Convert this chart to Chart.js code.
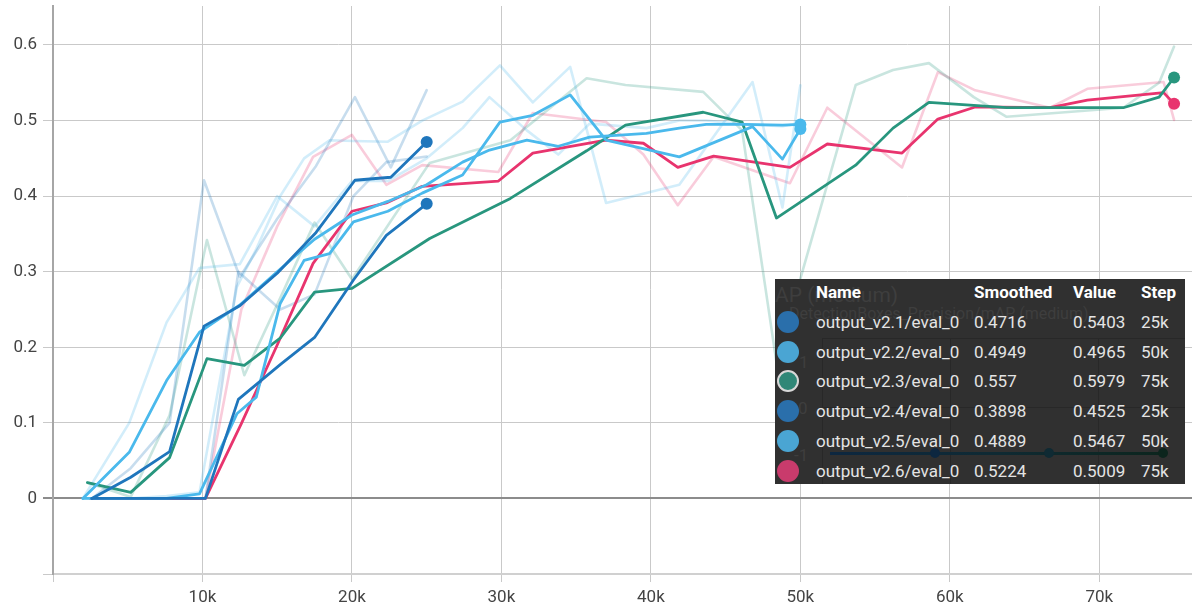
<!DOCTYPE html>
<html>
<head>
<meta charset="utf-8">
<script src="https://cdn.jsdelivr.net/npm/chart.js@4.4.1/dist/chart.umd.min.js"></script>
<style>
  html, body { margin: 0; padding: 0; background: #ffffff; }
  #wrap { position: relative; width: 1192px; height: 612px; overflow: hidden; }
  #plot { display: block; }
  #tip {
    position: absolute; left: 775px; top: 279px; width: 410px; height: 205px;
    background: #303030; overflow: hidden;
    font-family: Roboto, "Noto Sans", sans-serif; font-size: 17px;
  }
  #tip .ghost { position: absolute; white-space: nowrap; color: #3e3e3e; }
  #tip .gline { position: absolute; background: #282828; }
  #tip .row { position: absolute; left: 0; width: 410px; height: 22px; line-height: 22px; color: #e4e4e4; }
  #tip .row span { position: absolute; top: 0; white-space: nowrap; }
  #tip .row.head { color: #ffffff; font-weight: bold; }
  #tip .dot { position: absolute; width: 22px; height: 22px; border-radius: 50%; box-sizing: border-box; top: 0; left: 2px; }
</style>
</head>
<body>
<div id="wrap">
  <canvas id="plot" width="1198" height="612"></canvas>
  <div id="tip"></div>
</div>
<script>
// mAP (medium) evaluation curves: steps, smoothed and raw values per run
const RUN_NAMES = ['output_v2.1/eval_0', 'output_v2.2/eval_0', 'output_v2.3/eval_0',
                   'output_v2.4/eval_0', 'output_v2.5/eval_0', 'output_v2.6/eval_0'];

const STEPS_V21  = [2600, 5200, 7800, 10100, 12500, 15000, 17600, 20200, 22600, 25000];
const SMOOTH_V21 = [0, 0.028, 0.062, 0.228, 0.255, 0.298, 0.352, 0.421, 0.425, 0.4716];
const RAW_V21    = [0, 0.04, 0.10, 0.421, 0.293, 0.37, 0.44, 0.531, 0.438, 0.5403];

const STEPS_V22  = [2000, 5100, 7600, 9800, 12500, 15000, 17500, 20000, 22400, 25000, 27400,
                    29200, 31700, 33800, 35900, 39700, 41900, 43700, 46200, 48800, 50000];
const SMOOTH_V22 = [0, 0.061, 0.156, 0.220, 0.256, 0.300, 0.343, 0.375, 0.393, 0.415, 0.445,
                    0.461, 0.474, 0.466, 0.478, 0.483, 0.490, 0.495, 0.495, 0.494, 0.4949];
const RAW_V22    = [0, 0.10, 0.233, 0.305, 0.31, 0.40, 0.36, 0.42, 0.42, 0.45, 0.49,
                    0.531, 0.487, 0.455, 0.496, 0.49, 0.50, 0.50, 0.495, 0.4925, 0.4965];

const STEPS_V23  = [2300, 5200, 7800, 10300, 12800, 15200, 17500, 20000, 25200, 30600, 35700, 38300,
                    43500, 46100, 48400, 53700, 56200, 58600, 61600, 63800, 71600, 74000, 75000];
const SMOOTH_V23 = [0.021, 0.008, 0.054, 0.185, 0.176, 0.212, 0.273, 0.278, 0.344, 0.397, 0.460, 0.494,
                    0.511, 0.498, 0.371, 0.441, 0.490, 0.524, 0.520, 0.517, 0.517, 0.531, 0.557];
const RAW_V23    = [0.021, 0.002, 0.11, 0.342, 0.163, 0.265, 0.365, 0.29, 0.444, 0.474, 0.556, 0.547,
                    0.538, 0.487, 0.18, 0.547, 0.567, 0.576, 0.531, 0.505, 0.517, 0.55, 0.5979];

const STEPS_V24  = [2600, 5200, 7800, 10200, 12400, 15200, 17500, 20100, 22300, 25000];
const SMOOTH_V24 = [0, 0, 0, 0, 0.131, 0.177, 0.213, 0.289, 0.348, 0.3898];
const RAW_V24    = [0, 0, 0, 0, 0.30, 0.25, 0.27, 0.40, 0.445, 0.4525];

const STEPS_V25  = [2000, 5100, 7600, 9800, 12300, 13600, 15200, 16800, 18500, 20100, 22400,
                    24700, 27400, 29900, 32100, 34600, 37000, 41900, 46800, 48800, 50000];
const SMOOTH_V25 = [0, 0, 0, 0.006, 0.112, 0.134, 0.258, 0.315, 0.324, 0.366, 0.380,
                    0.404, 0.428, 0.498, 0.507, 0.534, 0.474, 0.452, 0.492, 0.449, 0.4889];
const RAW_V25    = [0, 0, 0.003, 0.008, 0.28, 0.33, 0.40, 0.45, 0.474, 0.473, 0.472,
                    0.50, 0.525, 0.573, 0.524, 0.571, 0.391, 0.415, 0.551, 0.385, 0.5467];

const STEPS_V26  = [2500, 5000, 7600, 10200, 12600, 15000, 17400, 20000, 22300, 24700, 29800, 32100, 37000,
                    39500, 41800, 44200, 49300, 51800, 56800, 59200, 61700, 66700, 69200, 74300, 75000];
const SMOOTH_V26 = [0, 0, 0, 0, 0.099, 0.203, 0.311, 0.380, 0.391, 0.413, 0.420, 0.457, 0.474,
                    0.470, 0.438, 0.453, 0.438, 0.469, 0.457, 0.502, 0.518, 0.517, 0.527, 0.537, 0.5224];
const RAW_V26    = [0, 0, 0, 0, 0.25, 0.36, 0.452, 0.481, 0.415, 0.441, 0.432, 0.51, 0.498,
                    0.455, 0.388, 0.452, 0.417, 0.517, 0.438, 0.564, 0.54, 0.517, 0.542, 0.551, 0.5009];

const X_TICKS = [10000, 20000, 30000, 40000, 50000, 60000, 70000];
const Y_TICKS = [0, 0.1, 0.2, 0.3, 0.4, 0.5, 0.6];

// run styling: line colour, faint raw colour, tooltip swatch
const STYLE = [
  { line: 'rgb(31,118,188)', raw: 'rgba(31,118,188,0.25)',  swatch: '#2a6fab', ring: null },
  { line: 'rgb(74,185,236)', raw: 'rgba(74,185,236,0.25)',  swatch: '#4aa5d3', ring: null },
  { line: 'rgb(40,150,126)', raw: 'rgba(40,150,126,0.25)',  swatch: '#2f8777', ring: '#d8d8d8' },
  { line: 'rgb(31,118,188)', raw: 'rgba(31,118,188,0.25)',  swatch: '#2a6fab', ring: null },
  { line: 'rgb(74,185,236)', raw: 'rgba(74,185,236,0.25)',  swatch: '#4aa5d3', ring: null },
  { line: 'rgb(232,52,110)', raw: 'rgba(232,52,110,0.25)',  swatch: '#c93b6c', ring: null }
];

const RUNS = [
  { steps: STEPS_V21, smooth: SMOOTH_V21, raw: RAW_V21 },
  { steps: STEPS_V22, smooth: SMOOTH_V22, raw: RAW_V22 },
  { steps: STEPS_V23, smooth: SMOOTH_V23, raw: RAW_V23 },
  { steps: STEPS_V24, smooth: SMOOTH_V24, raw: RAW_V24 },
  { steps: STEPS_V25, smooth: SMOOTH_V25, raw: RAW_V25 },
  { steps: STEPS_V26, smooth: SMOOTH_V26, raw: RAW_V26 }
];

const pts = (xs, ys) => xs.map((x, i) => ({ x: x, y: ys[i] }));

// smoothed lines on top (listed first, drawn last), raw lines underneath
const drawOrder = [0, 3, 1, 4, 2, 5];
const smoothSets = drawOrder.map(i => {
  const r = RUNS[i];
  const last = r.steps.length - 1;
  return {
    label: RUN_NAMES[i],
    data: pts(r.steps, r.smooth),
    borderColor: STYLE[i].line,
    backgroundColor: STYLE[i].line,
    borderWidth: 2.8,
    pointRadius: c => (c.dataIndex === last ? 6 : 0),
    pointBorderWidth: 0,
    pointBackgroundColor: STYLE[i].line,
    pointHoverRadius: 0
  };
});
const rawSets = drawOrder.map(i => {
  const r = RUNS[i];
  return {
    label: RUN_NAMES[i] + ' (raw)',
    data: pts(r.steps, r.raw),
    borderColor: STYLE[i].raw,
    borderWidth: 2.6,
    pointRadius: 0,
    pointHoverRadius: 0
  };
});

const isZero = v => Math.abs(v) < 1e-9;

new Chart(document.getElementById('plot'), {
  type: 'line',
  data: { datasets: smoothSets.concat(rawSets) },
  options: {
    responsive: false,
    animation: false,
    devicePixelRatio: 1,
    events: [],
    layout: { padding: { top: 6, right: 0, left: 0, bottom: 0 } },
    plugins: { legend: { display: false }, tooltip: { enabled: false } },
    elements: { line: { tension: 0, borderCapStyle: 'round', borderJoinStyle: 'round', fill: false } },
    scales: {
      x: {
        type: 'linear', min: 0, max: 76200,
        afterFit: s => { s.height = 38; s.paddingLeft = 0; s.paddingRight = 0; },
        afterBuildTicks: s => { s.ticks = [0].concat(X_TICKS).map(v => ({ value: v })); },
        border: { display: true, color: '#d0d0d0', width: 2 },
        grid: { color: '#c9c9c9', lineWidth: 1, tickLength: 8 },
        ticks: {
          autoSkip: false, maxRotation: 0, padding: 6, color: '#444444',
          font: { family: 'Roboto', size: 17 },
          callback: v => (v === 0 ? '' : (v / 1000) + 'k')
        }
      },
      y: {
        type: 'linear', min: -0.1, max: 0.6516,
        afterFit: s => { s.width = 53; s.paddingTop = 0; s.paddingBottom = 0; },
        afterBuildTicks: s => { s.ticks = [-0.1].concat(Y_TICKS).map(v => ({ value: v })); },
        border: { display: true, color: '#a6a6a6', width: 2 },
        grid: {
          color: c => (c.tick && isZero(c.tick.value) ? '#8c8c8c' : '#c9c9c9'),
          lineWidth: c => (c.tick && isZero(c.tick.value) ? 2 : 1),
          tickLength: 10
        },
        ticks: {
          padding: 6, color: '#444444',
          font: { family: 'Roboto', size: 17 },
          callback: v => (v < -0.05 ? '' : String(Math.round(v * 10) / 10))
        }
      }
    }
  }
});

// hover card listing the last point of every run
const tip = document.getElementById('tip');
function add(cls, css, text) {
  const el = document.createElement('div');
  el.className = cls;
  Object.assign(el.style, css);
  if (text !== undefined) el.textContent = text;
  tip.appendChild(el);
  return el;
}
// faint panel artwork behind the card text
add('gline', { left: '47px', top: '59px', width: '363px', height: '1px' });
add('gline', { left: '47px', top: '128px', width: '363px', height: '1px' });
add('gline', { left: '47px', top: '59px', width: '1px', height: '146px' });
add('gline', { left: '175px', top: '59px', width: '1px', height: '146px' });
add('gline', { left: '323px', top: '59px', width: '1px', height: '146px' });
add('ghost', { left: '0px', top: '4px', fontSize: '21px' }, 'AP (medium)');
add('ghost', { left: '14px', top: '25px', fontSize: '16px' }, 'DetectionBoxes_Precision/mAP (medium)');
add('ghost', { left: '24px', top: '73px', fontSize: '17px' }, '1');
add('ghost', { left: '23px', top: '119px', fontSize: '17px' }, '0');
add('ghost', { left: '19px', top: '166px', fontSize: '17px' }, '-1');
add('gline', { left: '55px', top: '173px', width: '337px', height: '3px',
               background: 'linear-gradient(90deg,#0d2740,#0f2a33 50%,#0c251d)' });
[160, 274, 388].forEach((x, i) => add('gline', {
  left: (x - 5) + 'px', top: '169px', width: '10px', height: '10px', borderRadius: '50%',
  background: ['#0d2740', '#0f2a33', '#0c251d'][i] }));

const COLS = { name: 41, smooth: 199, value: 298, step: 366 };
const head = add('row head', { top: '2px' });
[['Name', COLS.name], ['Smoothed', COLS.smooth], ['Value', COLS.value], ['Step', COLS.step]].forEach(([t, x]) => {
  const s = document.createElement('span'); s.textContent = t; s.style.left = x + 'px'; head.appendChild(s);
});
const fmt = v => String(Number(v.toFixed(4)));
RUNS.forEach((r, i) => {
  const last = r.steps.length - 1;
  const row = add('row', { top: (32 + i * 29.7) + 'px' });
  const dot = document.createElement('div');
  dot.className = 'dot';
  dot.style.background = STYLE[i].swatch;
  if (STYLE[i].ring) dot.style.border = '2px solid ' + STYLE[i].ring;
  row.appendChild(dot);
  [[RUN_NAMES[i], COLS.name], [fmt(r.smooth[last]), COLS.smooth], [fmt(r.raw[last]), COLS.value],
   [Math.round(r.steps[last] / 1000) + 'k', COLS.step]].forEach(([t, x]) => {
    const s = document.createElement('span'); s.textContent = t; s.style.left = x + 'px'; row.appendChild(s);
  });
});
</script>
</body>
</html>
